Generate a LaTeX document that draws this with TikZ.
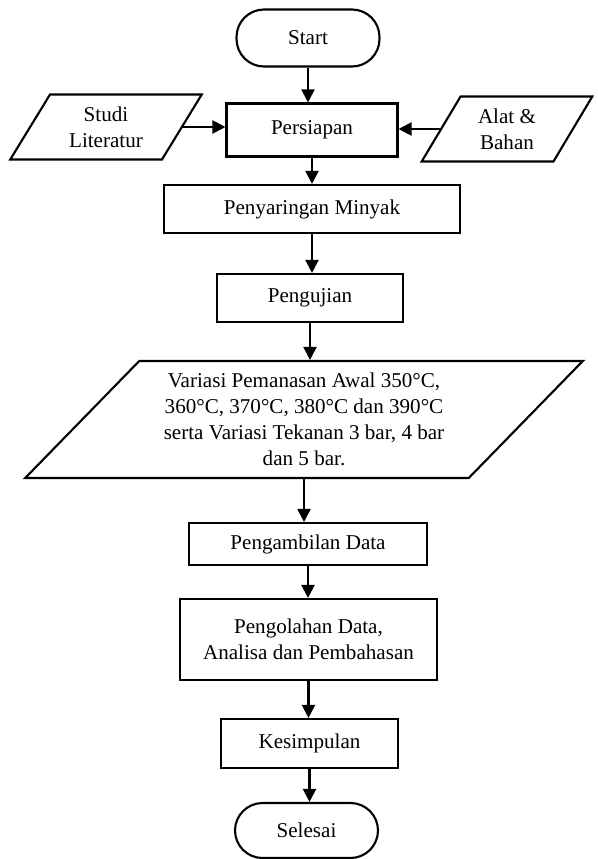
\documentclass[tikz,border=0pt]{standalone}
\usepackage{fontspec}
\setmainfont{Liberation Serif}
\usetikzlibrary{arrows.meta, shapes.geometric}

\begin{document}
\begin{tikzpicture}[x=0.02cm, y=-0.02cm,
  every node/.style={font=\fontsize{12}{14.8}\selectfont, align=center, line width=1.2pt},
  proses/.style={draw, rectangle},
  terminal/.style={draw, rectangle, rounded corners=0.55cm, minimum width=2.86cm},
  datain/.style={draw, trapezium, trapezium stretches=true},
  panah/.style={-{Triangle[length=7.5pt,width=7.5pt]}, line width=1.2pt}]
\useasboundingbox (0,0) rectangle (598,859);

\node[terminal, minimum height=1.14cm] (start) at (308,38) {Start};
\node[proses, minimum width=3.42cm, minimum height=1.06cm] (persiapan) at (312,130) {Persiapan};
\node[datain, trapezium left angle=60, trapezium right angle=120,
  minimum width=3.84cm, minimum height=1.3cm] (studi) at (106,127) {Studi\\Literatur};
\node[datain, trapezium left angle=61, trapezium right angle=119,
  minimum width=3.42cm, minimum height=1.3cm] (alat) at (507,129) {Alat \&\\Bahan};
\node[proses, minimum width=5.92cm, minimum height=0.96cm] (saring) at (312,209) {Penyaringan Minyak};
\node[proses, minimum width=3.72cm, minimum height=0.96cm] (uji) at (310,298) {Pengujian};
\node[datain, trapezium left angle=46, trapezium right angle=134,
  minimum width=11.2cm, minimum height=2.34cm] (variasi) at (304,419.5)
  {Variasi Pemanasan Awal 350°C,\\360°C, 370°C, 380°C dan 390°C\\serta Variasi Tekanan 3 bar, 4 bar\\dan 5 bar.};
\node[proses, minimum width=4.76cm, minimum height=0.84cm] (ambil) at (308,544) {Pengambilan Data};
\node[proses, minimum width=5.14cm, minimum height=1.62cm] (olah) at (308.5,639.5) {Pengolahan Data,\\Analisa dan Pembahasan};
\node[proses, minimum width=3.54cm, minimum height=0.98cm] (simpul) at (309.5,743.5) {Kesimpulan};
\node[terminal, minimum height=1.1cm] (selesai) at (306.5,830.5) {Selesai};

% alur utama
\foreach \a/\b in {start/persiapan, persiapan/saring, saring/uji, uji/variasi,
  variasi/ambil, ambil/olah, olah/simpul, simpul/selesai}
  \draw[panah] (\a.south) -- (\a.south |- \b.north);

% masukan samping
\draw[panah] (studi.east) -- (studi.east -| persiapan.west);
\draw[panah] (alat.west) -- (alat.west -| persiapan.east);
\end{tikzpicture}
\end{document}
